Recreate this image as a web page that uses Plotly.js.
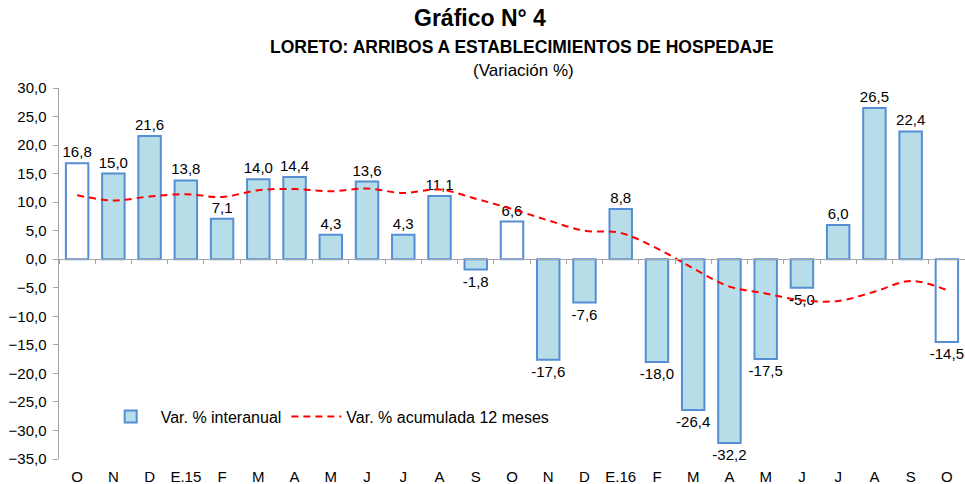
<!DOCTYPE html>
<html>
<head>
<meta charset="utf-8">
<script src="https://cdn.plot.ly/plotly-3.0.1.min.js"></script>
<style>html,body{margin:0;padding:0;background:#fff;}#chart{width:965px;height:484px;}</style>
</head>
<body>
<div id="chart"></div>
<script>
const categories = ["O","N","D","E.15","F","M","A","M","J","J","A","S","O","N","D","E.16","F","M","A","M","J","J","A","S","O"];
const interanual = [16.8, 15.0, 21.6, 13.8, 7.1, 14.0, 14.4, 4.3, 13.6, 4.3, 11.1, -1.8, 6.6, -17.6, -7.6, 8.8, -18.0, -26.4, -32.2, -17.5, -5.0, 6.0, 26.5, 22.4, -14.5];
const acumulada = [11.2, 10.3, 11.0, 11.4, 10.9, 12.1, 12.3, 11.9, 12.4, 11.6, 12.2, 10.6, 8.8, 6.8, 5.0, 4.6, 1.9, -1.6, -4.8, -6.0, -7.2, -7.3, -5.7, -3.8, -5.4];
const whiteBars = [0, 12, 24];

const xs = categories.map((c, i) => i);
const fills = categories.map((c, i) => whiteBars.includes(i) ? '#FFFFFF' : '#B7DEE8');
const font = "Liberation Sans, Arial, sans-serif";

const traces = [
  {
    type: 'bar', x: [null], y: [null], name: 'Var. % interanual',
    marker: {color: '#B7DEE8', line: {color: '#558ED5', width: 2}},
    hoverinfo: 'skip'
  },
  {
    type: 'bar', x: xs, y: interanual, name: 'Var. % interanual', showlegend: false,
    width: 0.62,
    marker: {color: fills, line: {color: '#558ED5', width: 2}},
    texttemplate: '%{y:.1f}', textposition: 'outside', cliponaxis: false,
    constraintext: 'none',
    textfont: {family: font, size: 15, color: '#000'},
    outsidetextfont: {family: font, size: 15, color: '#000'},
    hoverinfo: 'skip'
  },
  {
    type: 'scatter', mode: 'lines', x: xs, y: acumulada, name: 'Var. % acumulada 12 meses',
    line: {color: '#FF0000', width: 2, dash: '7px,5px', shape: 'spline', smoothing: 1},
    hoverinfo: 'skip'
  },
  {
    type: 'scatter', mode: 'lines', x: [0], y: [0], xaxis: 'x2', showlegend: false,
    line: {width: 0}, hoverinfo: 'skip'
  }
];

const bounds = [];
for (let i = 0; i <= categories.length; i++) bounds.push(i - 0.5);

const xr = [-0.5, 24.5];
const layout = {
  width: 965, height: 484,
  margin: {l: 59, r: 0, t: 88, b: 25},
  paper_bgcolor: '#fff', plot_bgcolor: 'rgba(0,0,0,0)',
  separators: ',.',
  font: {family: font, size: 15, color: '#000'},
  showlegend: true,
  barmode: 'overlay',
  legend: {orientation: 'h', x: 0.046, y: 0.16, xanchor: 'left', yanchor: 'top',
           itemwidth: 50,
           font: {family: font, size: 16, color: '#000'}, bgcolor: 'rgba(0,0,0,0)', traceorder: 'normal'},
  xaxis: {
    range: xr, tickmode: 'array', tickvals: xs, ticktext: categories,
    showline: false, showgrid: false, zeroline: false, ticks: '',
    ticklabelstandoff: 7,
    tickfont: {family: font, size: 15, color: '#000'}, fixedrange: true
  },
  xaxis2: {
    overlaying: 'x', anchor: 'free', position: 35/65, range: xr,
    tickmode: 'array', tickvals: bounds, showticklabels: false,
    ticks: 'outside', ticklen: 4, tickcolor: '#A6A6A6', tickwidth: 1,
    showline: true, linecolor: '#A6A6A6', linewidth: 1, showgrid: false, zeroline: false
  },
  yaxis: {
    range: [-35, 30], dtick: 5, tick0: 0, tickformat: '.1f',
    showline: true, linecolor: '#A6A6A6', linewidth: 1.5, ticks: 'outside', ticklen: 5,
    tickcolor: '#A6A6A6', showgrid: false, zeroline: false,
    ticklabelstandoff: 3,
    tickfont: {family: font, size: 15, color: '#000'}
  },
  annotations: [
    {text: '<b>Gráfico N° 4</b>', xref: 'paper', yref: 'paper', x: 0.4645, y: 1.189, xanchor: 'center', yanchor: 'middle', showarrow: false, font: {family: font, size: 23, color: '#000'}},
    {text: '<b>LORETO: ARRIBOS A ESTABLECIMIENTOS DE HOSPEDAJE</b>', xref: 'paper', yref: 'paper', x: 0.511, y: 1.111, xanchor: 'center', yanchor: 'middle', showarrow: false, font: {family: font, size: 17.5, color: '#000'}},
    {text: '(Variación %)', xref: 'paper', yref: 'paper', x: 0.513, y: 1.0485, xanchor: 'center', yanchor: 'middle', showarrow: false, font: {family: font, size: 17, color: '#000'}}
  ]
};

Plotly.newPlot('chart', traces, layout, {displayModeBar: false, staticPlot: true});
</script>
</body>
</html>
